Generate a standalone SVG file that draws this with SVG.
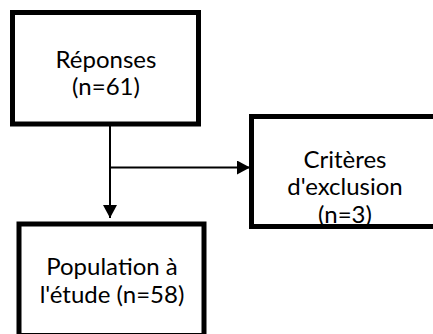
<svg xmlns="http://www.w3.org/2000/svg" width="433" height="334" viewBox="0 0 433 334">
<style>
.box{fill:#fff;stroke:#000;stroke-width:5}
.t{font-family:Lato,"Open Sans",sans-serif;font-size:24px;fill:#000;text-anchor:middle}
.c{stroke:#000;stroke-width:2;fill:none}
</style>
<defs>
<marker id="ah" markerUnits="userSpaceOnUse" markerWidth="14" markerHeight="14" viewBox="0 0 13 14" refX="13" refY="7" orient="auto">
<path d="M0,0 L13,7 L0,14 Z" fill="#000"/>
</marker>
</defs>
<rect width="433" height="334" fill="#fff"/>
<g id="connectors">
<line class="c" x1="110" y1="126" x2="110" y2="218" marker-end="url(#ah)"/>
<line class="c" x1="110" y1="167.5" x2="250" y2="167.5" marker-end="url(#ah)"/>
</g>
<g id="reponses">
<rect class="box" x="12.5" y="12.5" width="186" height="111.5"/>
<text class="t" y="67.5"><tspan x="106">Réponses</tspan><tspan x="106" dy="27.5">(n=61)</tspan></text>
</g>
<g id="criteres">
<rect class="box" x="251.5" y="116.5" width="186" height="110"/>
<text class="t" y="167.5"><tspan x="345">Critères</tspan><tspan x="345" dy="27.5">d'exclusion</tspan><tspan x="345" dy="27.5">(n=3)</tspan></text>
</g>
<g id="population">
<rect class="box" x="19" y="224" width="185" height="111.5"/>
<text class="t" y="275"><tspan x="112">Population à</tspan><tspan x="112" dy="27.5">l'étude (n=58)</tspan></text>
</g>
</svg>
